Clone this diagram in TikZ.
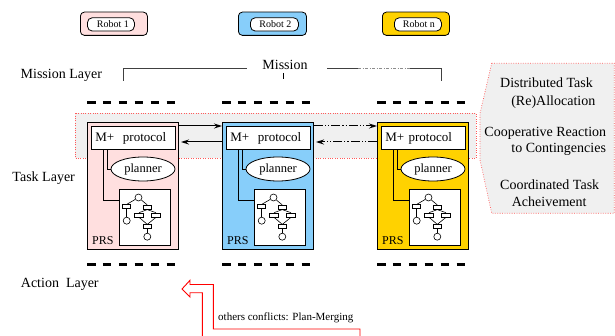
\documentclass[tikz,border=0pt]{standalone}
\usepackage{fontspec}
\setmainfont{Liberation Serif}
\usetikzlibrary{arrows.meta,shapes.geometric}
\definecolor{pinkr}{HTML}{FFDFDF}
\definecolor{bluer}{HTML}{87CEFA}
\definecolor{goldr}{HTML}{FFD200}
\definecolor{panelgray}{HTML}{F0F0F0}
\definecolor{dotred}{HTML}{FF5A5A}
\newcommand\setfs[1]{\fontsize{#1}{#1}\selectfont}
\newcommand\robotunit[4]{% #1 name, #2 left x, #3 colour, #4 protocol text
  \node[unitbox, fill=#3] (#1) at (#2,122) {};
  \node[mpbox] (#1mp) at ({#2+4},126) {#4};
  \node[plbox] (#1pl) at ({#2+56},169) {planner};
  \node[prsbox] (#1prs) at ({#2+32},189) {};
  \node[lbl, anchor=west, font=\setfs{12}] (#1prsl) at ({#2+5},240.5) {PRS};
  \draw[conn] ([xshift=12pt]#1mp.south west) |- ([yshift=17pt]#1prs.west);
  \draw[conn] ([xshift=16pt]#1mp.south west) |- (#1pl.west);
  \begin{scope}[shift={(#1prs.north west)}]
    \node[mcirc] (#1c1) at (19.5,8.5) {};
    \node[mrect] (#1r1) at (7.7,17.7) {};
    \node[mcirc] (#1c2) at (7.7,31.7) {};
    \node[mrect] (#1r2) at (28.3,18.3) {};
    \node[mrect, minimum width=9pt] (#1r3) at (20,26) {};
    \node[mrect, minimum width=9pt] (#1r4) at (37,26) {};
    \node[mrect] (#1r5) at (28.3,37.7) {};
    \node[mcirc] (#1c3) at (28.3,47.7) {};
  \end{scope}
  \draw[mini] (#1c1) -- (#1r1.north);
  \draw[mini] (#1r1) -- (#1c2);
  \draw[mini] (#1c1) -- (#1r2.north);
  \draw[mini] (#1r2.south) -- (#1r3.north);
  \draw[mini] (#1r2.south) -- (#1r4.north);
  \draw[mini] (#1r3.south) -- (#1r5.north);
  \draw[mini] (#1r4.south) -- (#1r5.north);
  \draw[mini] (#1r5) -- (#1c3);
}
\newcommand\robotlabel[7]{% name, outer x1,x2, inner x1,x2, colour, text
  \node[robout, fill=#6, minimum width={#3-#2}] (#1o) at (#2,11.7) {};
  \node[robin, minimum width={#5-#4}] (#1i) at (#4,17.3) {#7};
}
\begin{document}
\begin{tikzpicture}[x=1pt,y=-1pt,
  lbl/.style={inner sep=0pt, font=\setfs{14}},
  unitbox/.style={draw, line width=1pt, minimum width=91pt, minimum height=127pt, anchor=north west, inner sep=0pt},
  mpbox/.style={draw, fill=white, line width=0.8pt, minimum height=23pt, text width=76pt, inner xsep=4pt, inner ysep=0pt, align=left, anchor=north west, font=\setfs{13}},
  plbox/.style={draw, fill=white, ellipse, line width=0.8pt, minimum width=64pt, minimum height=24pt, inner sep=0pt, font=\setfs{12.5}},
  prsbox/.style={draw, fill=white, line width=0.8pt, minimum width=51pt, minimum height=56pt, anchor=north west, inner sep=0pt},
  conn/.style={line width=0.8pt},
  mini/.style={line width=0.6pt},
  mcirc/.style={draw, fill=white, circle, line width=0.6pt, minimum size=7pt, inner sep=0pt},
  mrect/.style={draw, fill=white, line width=0.6pt, minimum width=8pt, minimum height=4pt, inner sep=0pt},
  thickdash/.style={line width=2.7pt, dash pattern=on 8.5pt off 7.4pt},
  arr/.style={line width=1pt, -{Stealth[length=8pt,width=5pt]}},
  ddot/.style={dash pattern=on 9pt off 2pt on 1.2pt off 2pt on 1.2pt off 2pt},
  robout/.style={draw, line width=0.8pt, rounded corners=4pt, minimum height=23.3pt, anchor=north west, inner sep=0pt},
  robin/.style={draw, fill=white, line width=0.8pt, rounded corners=5pt, minimum height=13.4pt, anchor=north west, inner sep=0pt, font=\setfs{10}},
  dotborder/.style={draw=dotred, line width=0.7pt, dash pattern=on 0.8pt off 1.6pt},
]
\useasboundingbox (0,0) rectangle (615,336);

% robot labels
\robotlabel{rl1}{80}{147}{87}{134}{pinkr}{\hspace*{4pt}Robot 1}
\robotlabel{rl2}{238}{306}{250}{298}{bluer}{\hspace*{2pt}Robot 2}
\robotlabel{rl3}{382}{449}{394}{441}{goldr}{\hspace*{2pt}Robot n}

% mission bracket
\node[lbl, anchor=west] (ml) at (20.5,75) {Mission Layer};
\node[lbl] (mission) at (285,65) {Mission};
\draw[line width=0.8pt, black!75] (123,81) -- (123,68) -- (247,68);
\draw[line width=0.8pt, black!75] (327,68) -- (358,68);
\draw[line width=0.8pt, black!45, dash pattern=on 3pt off 1.5pt on 1pt off 1.5pt] (358,68) -- (410,68);
\draw[line width=0.8pt, black!75] (410,68) -- (441,68) -- (441,81);
\draw[line width=0.8pt] (283,73) -- (283,79);

% top dashes
\draw[thickdash] (87,102.7) -- ++(88,0);
\draw[thickdash] (222,102.7) -- ++(88,0);
\draw[thickdash] (377,102.7) -- ++(88,0);

% band and right panel
\path[fill=panelgray, dotborder] (75,113.3) rectangle (476,158.3);
\path[fill=panelgray, dotborder] (491.7,63.3) -- (614.3,63.3) -- (614.3,213.3) -- (491.7,213.3) -- (480,160) -- (480,113.3) -- cycle;

% units
\robotunit{u1}{87}{pinkr}{M+~~protocol}
\robotunit{u2}{222}{bluer}{M+~~protocol}
\robotunit{u3}{377}{goldr}{M+ protocol}

% arrows between units
\draw[arr] ([yshift=-4pt]u1.north east) -- ([yshift=-4pt]u2.north west);
\draw[arr] ([yshift=-20pt]u2.north west) -- ([xshift=2pt,yshift=-20pt]u1.north east);
\draw[arr, ddot] ([yshift=-4pt]u2.north east) -- ([yshift=-4pt]u3.north west);
\draw[arr, ddot] ([yshift=-20pt]u3.north west) -- ([xshift=2pt,yshift=-20pt]u2.north east);

% right panel texts
\node[lbl] (t1) at (546.5,82.3) {Distributed Task};
\node[lbl] (t2) at (553.3,102.3) {(Re)Allocation};
\node[lbl] (t3) at (545.3,133.3) {Cooperative Reaction};
\node[lbl] (t4) at (558.7,149.3) {to Contingencies};
\node[lbl] (t5) at (549.7,185) {Coordinated Task};
\node[lbl] (t6) at (549.2,201.7) {Acheivement};

% layer labels
\node[lbl, anchor=west] (tl) at (12.3,177.7) {Task Layer};
\node[lbl, anchor=west] (al) at (20.7,284.3) {Action\ \ Layer};

% bottom dashes
\draw[thickdash] (87,264.7) -- ++(88,0);
\draw[thickdash] (222,264.7) -- ++(88,0);
\draw[thickdash] (377,264.7) -- ++(88,0);

% red hollow arrow
\draw[red, line width=0.9pt, line join=miter] (360,336) -- (360,329) -- (213.3,329) -- (213.3,284.5) -- (190,284.5) -- (190,280.3) -- (182,289) -- (190,297) -- (190,292.8) -- (202.3,292.8) -- (202.3,336);
\node[inner sep=0pt, anchor=west, font=\setfs{11}] (pm) at (218,318.3) {others conflicts: Plan-Merging};
\end{tikzpicture}
\end{document}
